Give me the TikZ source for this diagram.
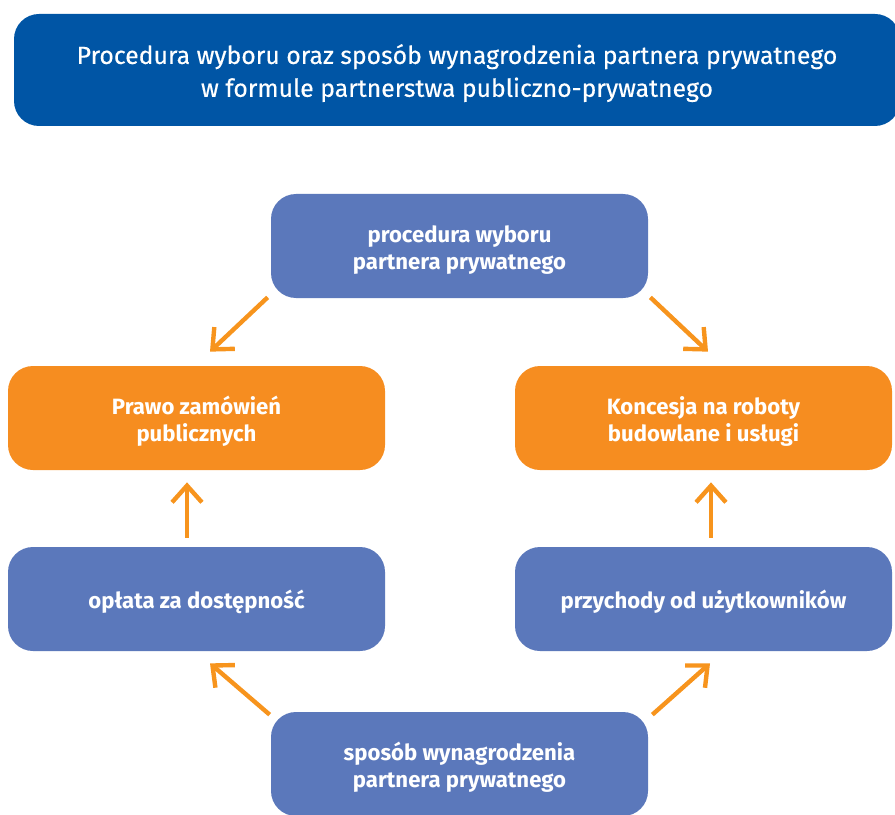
\documentclass[tikz,border=0pt]{standalone}
\usepackage{fontspec}
\setmainfont{Fira Sans}
\newfontfamily\titlefont{Fira Sans}[FakeBold=0.4]
\usepackage{tikz}
\usetikzlibrary{arrows.meta}
\definecolor{titleblue}{HTML}{0055A5}
\definecolor{boxblue}{HTML}{5B78BB}
\definecolor{boxorange}{HTML}{F68D20}
\definecolor{arrorange}{HTML}{F7941D}
\begin{document}
\begin{tikzpicture}[x=0.02cm,y=-0.02cm,
    box/.style={rounded corners=0.5cm,minimum width=377*0.02cm,minimum height=104*0.02cm,
        text=white,font=\bfseries\fontsize{12.6}{15.3}\selectfont,align=center,inner sep=0pt,
        execute at begin node={\rule{0pt}{#1}}},
    box/.default=14pt,
    bluebox/.style={box=#1,fill=boxblue},
    bluebox/.default=29pt,
    orangebox/.style={box=29pt,fill=boxorange},
    arr/.style={-{Straight Barb[length=9.5pt,width=17pt]},arrorange,line width=2.5pt}]
    \useasboundingbox (0,0) rectangle (895,814);
    \clip (0,0) rectangle (895,814);
    % Title
    \node[fill=titleblue,rounded corners=0.5cm,minimum width=886*0.02cm,minimum height=112*0.02cm,
        text=white,font=\titlefont\fontsize{14.1}{18.7}\selectfont,align=center,inner sep=0pt,
        execute at begin node={\rule{0pt}{33.5pt}}]
        (title) at (457,70) {Procedura wyboru oraz sposób wynagrodzenia partnera prywatnego\\w formule partnerstwa publiczno-prywatnego};
    % Boxes
    \node[bluebox] (top) at (459.5,246) {procedura wyboru\\partnera prywatnego};
    \node[orangebox] (lpz) at (196.5,418) {Prawo zamówień\\publicznych};
    \node[orangebox] (rpz) at (703.5,418) {Koncesja na roboty\\budowlane i usługi};
    \node[bluebox=14pt] (lbl) at (196.5,599) {opłata za dostępność};
    \node[bluebox=14pt] (rbl) at (703.5,599) {przychody od użytkowników};
    \node[bluebox] (bot) at (459.5,764) {sposób wynagrodzenia\\partnera prywatnego};
    % Draw arrows
    \draw[arr] ([shift={(-3,-1)}]top.south west) -- ([shift={(13.5,-14)}]lpz.north);
    \draw[arr] ([shift={(2,-1)}]top.south east) -- ([shift={(4.5,-14)}]rpz.north);
    \draw[arr] ([shift={(-9.5,-9)}]lbl.north) -- ([shift={(-9.5,12)}]lpz.south);
    \draw[arr] ([shift={(7.5,-9)}]rbl.north) -- ([shift={(7.5,12)}]rpz.south);
    \draw[arr] ([shift={(-1,3)}]bot.north west) -- ([shift={(13.5,12)}]lbl.south);
    \draw[arr] ([shift={(4,3)}]bot.north east) -- ([shift={(6.5,12)}]rbl.south);
\end{tikzpicture}
\end{document}
